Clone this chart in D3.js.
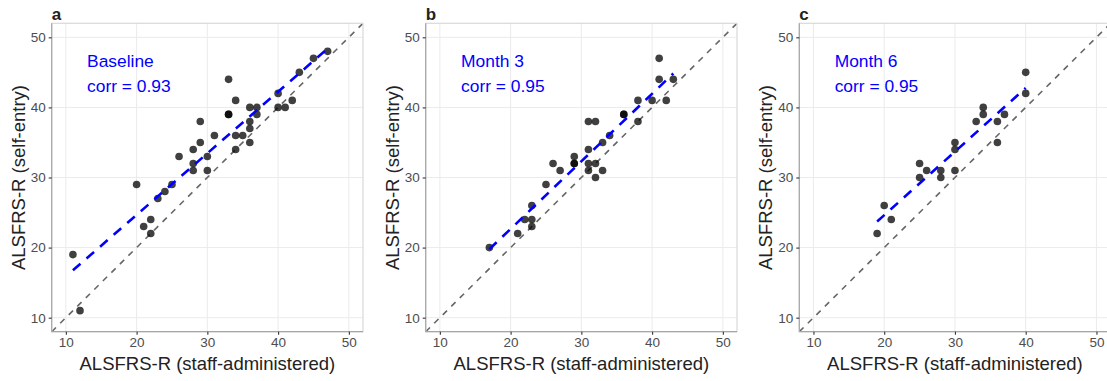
<!DOCTYPE html>
<html>
<head>
  <meta charset="utf-8">
  <style type="text/css">
	body { margin: 0; background: #fff; }
	svg text { font-family: "Liberation Sans", Arial, sans-serif; }
	.axis path { display: none; }
  </style>
</head>
<body>
<svg class="plots" width="1107" height="381"></svg>

<script src="https://d3js.org/d3.v7.min.js"></script>
<script>
// ---- data (staff-administered vs self-entry scores) ----
var panelLetters = ["a", "b", "c"];
var panelNames = ["Baseline", "Month 3", "Month 6"];
var corrLabels = ["corr = 0.93", "corr = 0.95", "corr = 0.95"];
var tickValues = [10, 20, 30, 40, 50];
var axisLimits = [10, 50];

var baselineStaff = [11, 12, 20, 21, 22, 22, 23, 24, 25, 26, 28, 28, 28, 29, 29, 30, 30, 31, 33, 33, 33,
  34, 34, 34, 35, 36, 36, 36, 36, 37, 37, 40, 40, 41, 42, 43, 45, 47];
var baselineSelf = [19, 11, 29, 23, 24, 22, 27, 28, 29, 33, 34, 32, 31, 38, 35, 33, 31, 36, 44, 39, 39,
  41, 36, 34, 36, 40, 38, 37, 35, 40, 39, 42, 40, 40, 41, 45, 47, 48];

var month3Staff = [17, 21, 22, 23, 23, 23, 25, 26, 27, 29, 29, 29, 31, 31, 31, 31, 32, 32, 32, 33, 33,
  34, 36, 36, 38, 38, 40, 41, 41, 42, 43];
var month3Self = [20, 22, 24, 26, 24, 23, 29, 32, 31, 33, 32, 32, 38, 34, 32, 31, 38, 32, 30, 35, 31,
  36, 39, 39, 41, 38, 41, 47, 44, 41, 44];

var month6Staff = [19, 20, 21, 25, 25, 26, 28, 28, 30, 30, 30, 33, 34, 34, 36, 36, 37, 40, 40];
var month6Self = [22, 26, 24, 32, 30, 31, 31, 30, 35, 34, 31, 38, 40, 39, 38, 35, 39, 45, 42];

var staffSeries = [baselineStaff, month3Staff, month6Staff];
var selfSeries = [baselineSelf, month3Self, month6Self];

// ---- layout ----
var svg = d3.select(".plots");
var panelLeft = [51.7, 425.7, 799.3],
    panelTop = 23.3,
    panelW = 311.3,
    panelH = 308.4;

// ggplot style 5% expansion
var pad = (axisLimits[1] - axisLimits[0]) * 0.05;
var dom = [axisLimits[0] - pad, axisLimits[1] + pad];

// least squares line for the blue fit
function fitLine(xs, ys) {
  var mx = d3.mean(xs), my = d3.mean(ys);
  var sxy = d3.sum(xs, function(d, i) { return (d - mx) * (ys[i] - my); });
  var sxx = d3.sum(xs, function(d) { return (d - mx) * (d - mx); });
  var b = sxy / sxx;
  return { slope: b, intercept: my - b * mx };
}

panelLetters.forEach(function(letter, p) {
  var left = panelLeft[p];
  var xs = staffSeries[p], ys = selfSeries[p];

  var x = d3.scaleLinear().domain(dom).range([left, left + panelW]);
  var y = d3.scaleLinear().domain(dom).range([panelTop + panelH, panelTop]);

  var g = svg.append("g").attr("class", "panel");

  g.append("clipPath")
      .attr("id", "clip" + p)
    .append("rect")
      .attr("x", left).attr("y", panelTop)
      .attr("width", panelW).attr("height", panelH);

  // grid
  g.append("g").selectAll("line.gx")
    .data(tickValues).enter().append("line")
      .attr("x1", function(d) { return x(d); })
      .attr("x2", function(d) { return x(d); })
      .attr("y1", panelTop).attr("y2", panelTop + panelH)
      .attr("stroke", "#ebebeb").attr("stroke-width", 1);
  g.append("g").selectAll("line.gy")
    .data(tickValues).enter().append("line")
      .attr("y1", function(d) { return y(d); })
      .attr("y2", function(d) { return y(d); })
      .attr("x1", left).attr("x2", left + panelW)
      .attr("stroke", "#ebebeb").attr("stroke-width", 1);

  var plot = g.append("g").attr("clip-path", "url(#clip" + p + ")");

  // identity line
  plot.append("line")
      .attr("x1", x(dom[0])).attr("y1", y(dom[0]))
      .attr("x2", x(dom[1])).attr("y2", y(dom[1]))
      .attr("stroke", "#666").attr("stroke-width", 1.6)
      .attr("stroke-dasharray", "6,6");

  // points
  plot.selectAll("circle")
    .data(xs).enter().append("circle")
      .attr("cx", function(d) { return x(d); })
      .attr("cy", function(d, i) { return y(ys[i]); })
      .attr("r", 3.8)
      .attr("fill", "#000")
      .attr("fill-opacity", 0.75);

  // fitted line
  var fit = fitLine(xs, ys);
  var xr = d3.extent(xs);
  plot.append("line")
      .attr("x1", x(xr[0])).attr("y1", y(fit.intercept + fit.slope * xr[0]))
      .attr("x2", x(xr[1])).attr("y2", y(fit.intercept + fit.slope * xr[1]))
      .attr("stroke", "#0000ff").attr("stroke-width", 2.6)
      .attr("stroke-dasharray", "10,8");

  // border (top / right light, left / bottom darker)
  g.append("rect")
      .attr("x", left).attr("y", panelTop)
      .attr("width", panelW).attr("height", panelH)
      .attr("fill", "none").attr("stroke", "#d9d9d9").attr("stroke-width", 1.2);
  g.append("path")
      .attr("d", "M" + left + "," + panelTop + "V" + (panelTop + panelH) + "H" + (left + panelW))
      .attr("fill", "none").attr("stroke", "#a6a6a6").attr("stroke-width", 1.2);

  // axes
  var xAxis = g.append("g")
      .attr("class", "axis")
      .attr("transform", "translate(0," + (panelTop + panelH) + ")")
      .call(d3.axisBottom(x).tickValues(tickValues).tickSize(3).tickPadding(3));
  var yAxis = g.append("g")
      .attr("class", "axis")
      .attr("transform", "translate(" + left + ",0)")
      .call(d3.axisLeft(y).tickValues(tickValues).tickSize(3).tickPadding(3));
  [xAxis, yAxis].forEach(function(ax) {
    ax.attr("font-size", null).attr("font-family", null);
    ax.selectAll("line").attr("stroke", "#333").attr("stroke-width", 1.1);
    ax.selectAll("text").attr("fill", "#4d4d4d").style("font-size", "13.5px");
  });

  // axis titles
  g.append("text")
      .attr("x", left + panelW / 2)
      .attr("y", 370)
      .attr("text-anchor", "middle")
      .attr("fill", "#222")
      .style("font-size", "18.5px")
      .text("ALSFRS-R (staff-administered)");
  g.append("text")
      .attr("transform", "translate(" + (left - 27) + "," + (panelTop + panelH / 2) + ") rotate(-90)")
      .attr("text-anchor", "middle")
      .attr("fill", "#222")
      .style("font-size", "18.5px")
      .text("ALSFRS-R (self-entry)");

  // panel letter
  g.append("text")
      .attr("x", left)
      .attr("y", 19.5)
      .style("font-size", "17px")
      .attr("font-weight", "bold")
      .attr("fill", "#222")
      .text(letter);

  // annotation
  g.append("text")
      .attr("x", x(13))
      .attr("y", y(45.8))
      .attr("fill", "#0000ff")
      .style("font-size", "17.4px")
      .text(panelNames[p]);
  g.append("text")
      .attr("x", x(13))
      .attr("y", y(42.2))
      .attr("fill", "#0000ff")
      .style("font-size", "17.4px")
      .text(corrLabels[p]);
});
</script>
</body>
</html>
